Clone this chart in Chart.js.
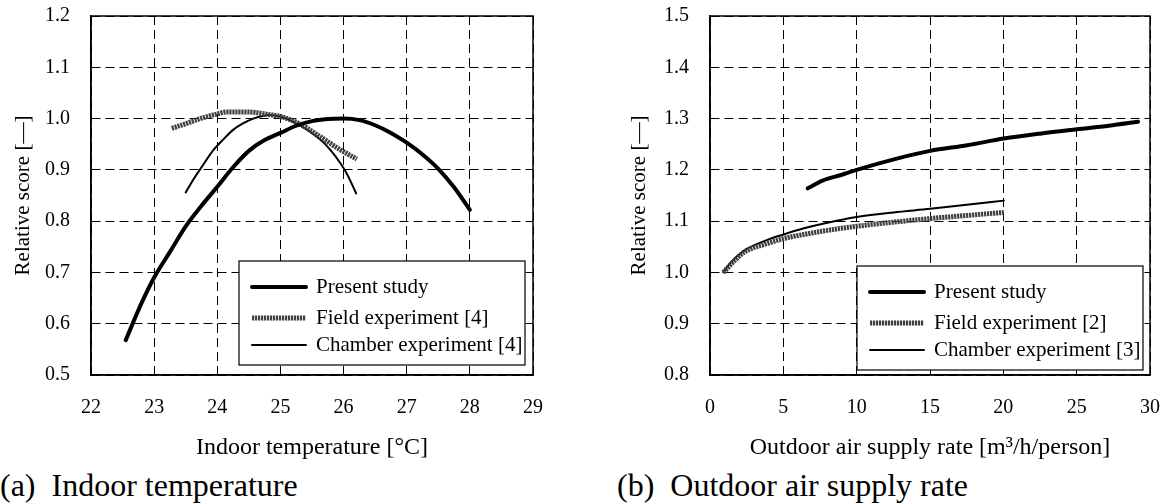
<!DOCTYPE html>
<html>
<head>
<meta charset="utf-8">
<script src="https://cdn.jsdelivr.net/npm/chart.js@4.4.1/dist/chart.umd.min.js"></script>
<style>
  body { margin: 0; background: #fff; width: 1165px; height: 504px; position: relative; overflow: hidden; }
  canvas { position: absolute; top: 0; }
  #c1 { left: 0; }
  #c2 { left: 582px; }
  .cap { position: absolute; top: 466px; font: 32px "Liberation Serif", "Times New Roman", serif; line-height: 38px; white-space: pre; color: #000; }
</style>
</head>
<body>
<canvas id="c1" width="582" height="464"></canvas>
<canvas id="c2" width="583" height="464"></canvas>
<div class="cap" style="left:0">(a)  Indoor temperature</div>
<div class="cap" style="left:617px">(b)  Outdoor air supply rate</div>
<script>
// (a) indoor temperature
const tempPresentX = [22.55, 22.8, 23.0, 23.25, 23.5, 23.75, 24.0, 24.25, 24.5, 24.75, 25.0, 25.25, 25.5, 25.75, 26.0, 26.25, 26.5, 26.75, 27.0, 27.25, 27.5, 27.75, 28.0];
const tempPresentY = [0.568, 0.64, 0.69, 0.74, 0.79, 0.83, 0.867, 0.905, 0.937, 0.958, 0.972, 0.986, 0.995, 0.999, 1.0, 0.997, 0.987, 0.972, 0.953, 0.93, 0.902, 0.866, 0.822];
const tempFieldX = [23.28, 23.5, 23.73, 24.0, 24.15, 24.4, 24.6, 24.8, 25.0, 25.3, 25.6, 25.95, 26.21];
const tempFieldY = [0.981, 0.99, 1.0, 1.009, 1.013, 1.013, 1.012, 1.008, 1.004, 0.99, 0.967, 0.939, 0.921];
const tempChamberX = [23.5, 23.6, 23.75, 23.94, 24.1, 24.25, 24.4, 24.57, 24.83, 25.0, 25.15, 25.3, 25.47, 25.65, 25.79, 25.95, 26.05, 26.2];
const tempChamberY = [0.856, 0.877, 0.905, 0.939, 0.96, 0.978, 0.99, 1.0, 1.007, 1.004, 0.997, 0.987, 0.974, 0.957, 0.939, 0.913, 0.893, 0.854];
const tempLabels = ['Present study', 'Field experiment [4]', 'Chamber experiment [4]'];

// (b) outdoor air supply rate
const airPresentX = [6.66, 7.67, 8.94, 10, 12.73, 15.01, 17.54, 20.03, 22.6, 25.01, 27.2, 29.19];
const airPresentY = [1.164, 1.179, 1.19, 1.2, 1.222, 1.237, 1.248, 1.261, 1.271, 1.279, 1.286, 1.294];
const airFieldX = [0.91, 1.6, 2.35, 3.87, 5.01, 6.4, 8, 10, 12.5, 15.01, 17.5, 20.03];
const airFieldY = [1.0, 1.021, 1.04, 1.056, 1.066, 1.074, 1.082, 1.09, 1.098, 1.105, 1.111, 1.117];
const airChamberX = [0.91, 1.34, 2.35, 3.87, 5.01, 6.4, 8, 10, 12.5, 15.01, 17.5, 20.03];
const airChamberY = [1.0, 1.017, 1.043, 1.063, 1.074, 1.086, 1.097, 1.108, 1.117, 1.124, 1.132, 1.14];
const airLabels = ['Present study', 'Field experiment [2]', 'Chamber experiment [3]'];

const FONT = '"Liberation Serif", "Times New Roman", serif';
Chart.defaults.font.family = FONT;
Chart.defaults.font.size = 20;
Chart.defaults.color = '#000';

const pts = (xs, ys) => xs.map((x, i) => ({ x: x, y: ys[i] }));

// draws the box round the plot and the legend inside it
const framePlugin = {
  id: 'frame',
  afterDraw(chart, args, opts) {
    const ctx = chart.ctx;
    const a = chart.chartArea;
    ctx.save();
    ctx.strokeStyle = '#000';
    ctx.lineWidth = 1.5;
    ctx.strokeRect(a.left, a.top, a.right - a.left, a.bottom - a.top);

    const x = a.right - opts.right - opts.width;
    const y = a.bottom - opts.bottom - opts.height;
    ctx.fillStyle = '#fff';
    ctx.fillRect(x, y, opts.width, opts.height);
    ctx.lineWidth = 1.2;
    ctx.strokeRect(x, y, opts.width, opts.height);

    const rows = [26, 57, 84];
    chart.data.datasets.forEach((ds, i) => {
      const ry = y + rows[i];
      ctx.beginPath();
      ctx.setLineDash(ds.borderDash || []);
      ctx.lineWidth = ds.borderWidth;
      ctx.strokeStyle = ds.borderColor;
      ctx.lineCap = ds.borderDash ? 'butt' : 'round';
      ctx.moveTo(x + 13, ry);
      ctx.lineTo(x + 67, ry);
      ctx.stroke();
      ctx.setLineDash([]);
      ctx.fillStyle = '#000';
      ctx.font = '21px ' + FONT;
      ctx.textBaseline = 'middle';
      ctx.fillText(ds.label, x + 77, ry);
    });
    ctx.restore();
  }
};

function makeSets(labels, present, field, chamber) {
  return [
    { label: labels[0], data: present, borderColor: '#000', borderWidth: 4, borderCapStyle: 'round' },
    { label: labels[1], data: field, borderColor: '#404040', borderWidth: 5, borderDash: [2.2, 0.8], borderCapStyle: 'butt' },
    { label: labels[2], data: chamber, borderColor: '#000', borderWidth: 2, borderCapStyle: 'round' }
  ];
}

function makeChart(id, sets, xr, yr, xTitle, yWidth, titlePad, padRight, legend) {
  return new Chart(document.getElementById(id), {
    type: 'line',
    data: { datasets: sets },
    options: {
      responsive: false,
      animation: false,
      elements: { point: { radius: 0 }, line: { cubicInterpolationMode: 'monotone', fill: false } },
      layout: { padding: { left: 0, right: padRight, top: 16, bottom: 0 } },
      plugins: { legend: { display: false }, tooltip: { enabled: false }, frame: legend },
      scales: {
        x: {
          type: 'linear', min: xr[0], max: xr[1],
          ticks: { stepSize: xr[2], padding: 21 },
          grid: { color: '#000', lineWidth: 1, drawTicks: false },
          border: { color: '#000', width: 1.5, dash: [9, 5] },
          title: { display: true, text: xTitle, font: { size: 24 }, padding: { top: 0, bottom: 2 } },
          afterFit: s => { s.height = 89; s.paddingLeft = 0; s.paddingRight = 0; }
        },
        y: {
          min: yr[0], max: yr[1],
          ticks: { stepSize: 0.1, padding: 21, callback: v => v.toFixed(1) },
          grid: { color: '#000', lineWidth: 1, drawTicks: false },
          border: { color: '#000', width: 1.5, dash: [9, 5] },
          title: { display: true, text: 'Relative score [—]', font: { size: 21 }, padding: { top: titlePad, bottom: 0 } },
          afterFit: s => { s.width = yWidth; s.paddingTop = 0; s.paddingBottom = 0; }
        }
      }
    },
    plugins: [framePlugin]
  });
}

makeChart('c1',
  makeSets(tempLabels, pts(tempPresentX, tempPresentY), pts(tempFieldX, tempFieldY), pts(tempChamberX, tempChamberY)),
  [22, 29, 1], [0.5, 1.2], 'Indoor temperature [°C]', 91, 11, 49,
  { width: 286, height: 104, right: 8, bottom: 10 });

makeChart('c2',
  makeSets(airLabels, pts(airPresentX, airPresentY), pts(airFieldX, airFieldY), pts(airChamberX, airChamberY)),
  [0, 30, 5], [0.8, 1.5], 'Outdoor air supply rate [m³/h/person]', 128, 45, 15,
  { width: 286, height: 104, right: 7, bottom: 5 });
</script>
</body>
</html>
